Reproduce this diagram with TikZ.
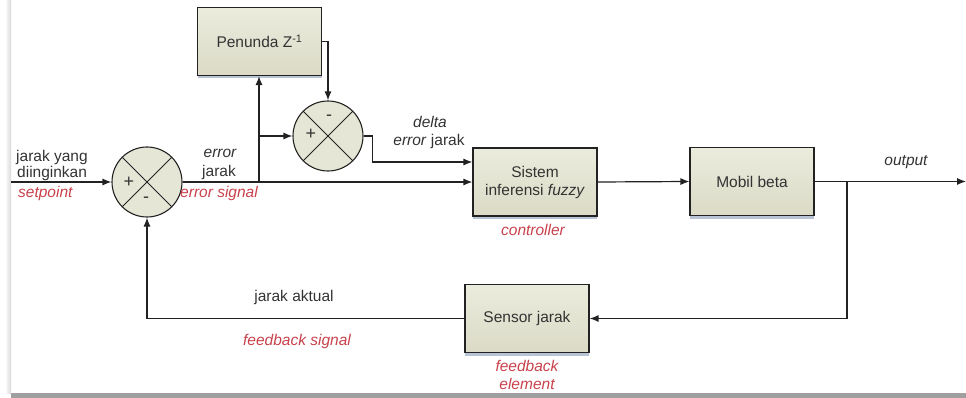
\documentclass[tikz,border=0pt]{standalone}
\usepackage{fontspec}
\setmainfont{Liberation Sans}
\usetikzlibrary{arrows.meta,shadows}
\definecolor{txtc}{HTML}{333333}
\definecolor{redc}{HTML}{C8414B}
\definecolor{boxtop}{HTML}{ECECDE}
\definecolor{boxbot}{HTML}{DADAC6}
\definecolor{circc}{HTML}{E6E6D6}
\definecolor{shadc}{HTML}{A8B4CC}
\definecolor{wirec}{HTML}{222222}
\begin{document}
\begin{tikzpicture}[x=1pt,y=-1pt,
  font=\fontsize{15.5}{17}\selectfont,
  blk/.style={draw=wirec, line width=1.1pt, top color=boxtop, bottom color=boxbot,
    minimum width=124pt, minimum height=68pt, inner sep=2pt, align=center, text=txtc,
    drop shadow={shadow xshift=0pt, shadow yshift=-3pt, fill=shadc, opacity=0.8}},
  sumj/.style={circle, draw=wirec, line width=1.1pt, fill=circc, minimum size=70pt, inner sep=0pt},
  wire/.style={draw=wirec, line width=1.2pt},
  arr/.style={wire, -{Latex[length=9pt,width=7pt]}},
  txt/.style={text=txtc, inner sep=0pt, anchor=base},
  rlbl/.style={text=redc, inner sep=0pt, anchor=base, font=\fontsize{15.5}{17}\selectfont\itshape},
  sgn/.style={text=txtc, inner sep=0pt, font=\fontsize{18}{18}\selectfont}]
\useasboundingbox (0,0) rectangle (966,398);
% page edge
\fill[left color=white, right color=gray!30] (5,0) rectangle (11,393);
\fill[gray!75] (11,393) rectangle (966,398);

% blocks
\node[blk] (pen) at (259.5,41.5) {Penunda Z\textsuperscript{-1}};
\node[blk] (fis) at (535,182) {Sistem\\[1pt]inferensi \textit{fuzzy}};
\node[blk] (mob) at (752,181.5) {Mobil beta};
\node[blk] (sen) at (527,318.5) {Sensor jarak};

% summing junctions
\node[sumj] (j1) at (147,182) {};
\draw[wire, line width=1pt] (j1.north west) -- (j1.south east) (j1.north east) -- (j1.south west);
\node[sgn] (j1p) at (129,182) {+};
\node[sgn] (j1m) at (146,200) {-};
\node[sumj] (j2) at (328,136) {};
\draw[wire, line width=1pt] (j2.north west) -- (j2.south east) (j2.north east) -- (j2.south west);
\node[sgn] (j2m) at (329,118) {-};
\node[sgn] (j2p) at (311,134) {+};

% coordinates
\coordinate (in) at (11,182);
\coordinate (br1) at (259,182);
\coordinate (br2) at (847,181.5);
\coordinate (out) at (966,181.5);

% wires
\draw[arr] (in) -- (j1.west);
\draw[arr] (j1.east) -- (fis.west);
\draw[arr] (br1) -- (br1 |- pen.south);
\draw[arr] (br1 |- j2) -- (j2.west);
\draw[arr] (pen.east) -| (j2.north);
\draw[arr] (j2.east) -- ++(9,0) |- ([yshift=20pt]fis.west);
\draw[arr] (fis.east) -- (mob.west);
\draw[arr] (mob.east) -- (out);
\draw[arr] (br2) |- (sen.east);
\draw[arr] (sen.west) -| (j1.south);

% labels
\node[txt, anchor=base west] (t1) at (16,162) {jarak yang};
\node[txt, anchor=base west] (t2) at (17,178) {diinginkan};
\node[rlbl, anchor=base west] (r1) at (18,197) {setpoint};
\node[txt, font=\fontsize{15.5}{17}\selectfont\itshape] (t3) at (220,158) {error};
\node[txt] (t4) at (219,177) {jarak};
\node[rlbl] (r2) at (219,197) {error signal};
\node[txt, font=\fontsize{15.5}{17}\selectfont\itshape] (t5) at (430,128) {delta};
\node[txt] (t6) at (429,146) {\textit{error} jarak};
\node[rlbl] (r3) at (533,235) {controller};
\node[txt, font=\fontsize{15.5}{17}\selectfont\itshape] (t7) at (906,166) {output};
\node[txt] (t8) at (294,301) {jarak aktual};
\node[rlbl] (r4) at (297,345) {feedback signal};
\node[rlbl] (r5) at (527,371) {feedback};
\node[rlbl] (r6) at (527,389) {element};
\end{tikzpicture}
\end{document}
